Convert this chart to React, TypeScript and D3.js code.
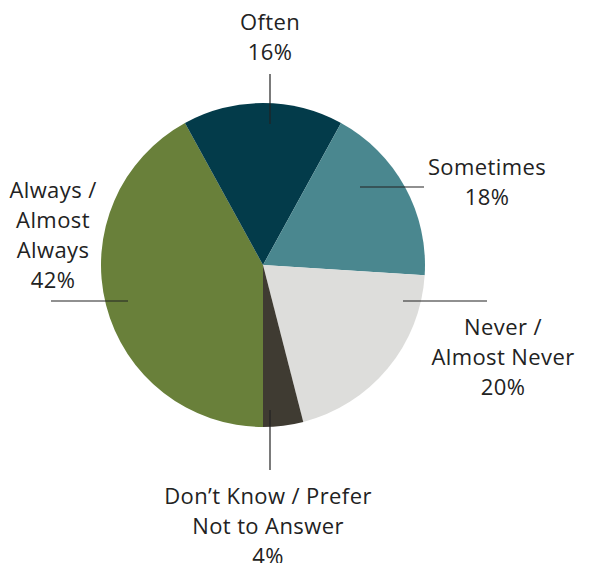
import React from "react";
import * as d3 from "d3";

const categories = ["Always / Almost Always", "Often", "Sometimes", "Never / Almost Never", "Don\u2019t Know / Prefer Not to Answer"];
const values = [42, 16, 18, 20, 4];
const colors = ["#69803a", "#033b4a", "#4a878f", "#dddddb", "#3f3b32"];

// label layout (lines of text, text anchor position, leader line)
const labelLines = [
  ["Always /", "Almost", "Always", "42%"],
  ["Often", "16%"],
  ["Sometimes", "18%"],
  ["Never /", "Almost Never", "20%"],
  ["Don\u2019t Know / Prefer", "Not to Answer", "4%"],
];
const labelPos = [
  { x: 53, y: 198, line: [51, 301, 128, 301] },
  { x: 270, y: 30, line: [270, 74, 270, 124] },
  { x: 487, y: 175, line: [360, 187, 424, 187] },
  { x: 503, y: 335, line: [403, 301, 487, 301] },
  { x: 268, y: 504, line: [270, 410, 270, 470] },
];

export default function App() {
  const W = 590, H = 563;
  const cx = 263, cy = 265, r = 162;
  const pie = d3.pie<number>().sort(null).startAngle(Math.PI).endAngle(3 * Math.PI);
  const arcs = pie(values);
  const arc = d3.arc<d3.PieArcDatum<number>>().innerRadius(0).outerRadius(r);
  const lh = 30;
  return (
    <svg width={W} height={H} style={{ position: "absolute", left: 0, top: 0 }}>
      <rect width={W} height={H} fill="#fff" />
      <g transform={`translate(${cx},${cy})`}>
        {arcs.map((a, i) => (
          <path key={i} d={arc(a) || ""} fill={colors[i]} />
        ))}
      </g>
      {labelPos.map((p, i) => (
        <g key={i}>
          <line x1={p.line[0]} y1={p.line[1]} x2={p.line[2]} y2={p.line[3]} stroke="#222" strokeWidth={1.2} />
          <text textAnchor="middle" fontFamily="'Open Sans', sans-serif" fontSize={22} letterSpacing={0.4} fill="#222">
            {labelLines[i].map((t, j) => (
              <tspan key={j} x={p.x} y={p.y + j * lh}>{t}</tspan>
            ))}
          </text>
        </g>
      ))}
    </svg>
  );
}
